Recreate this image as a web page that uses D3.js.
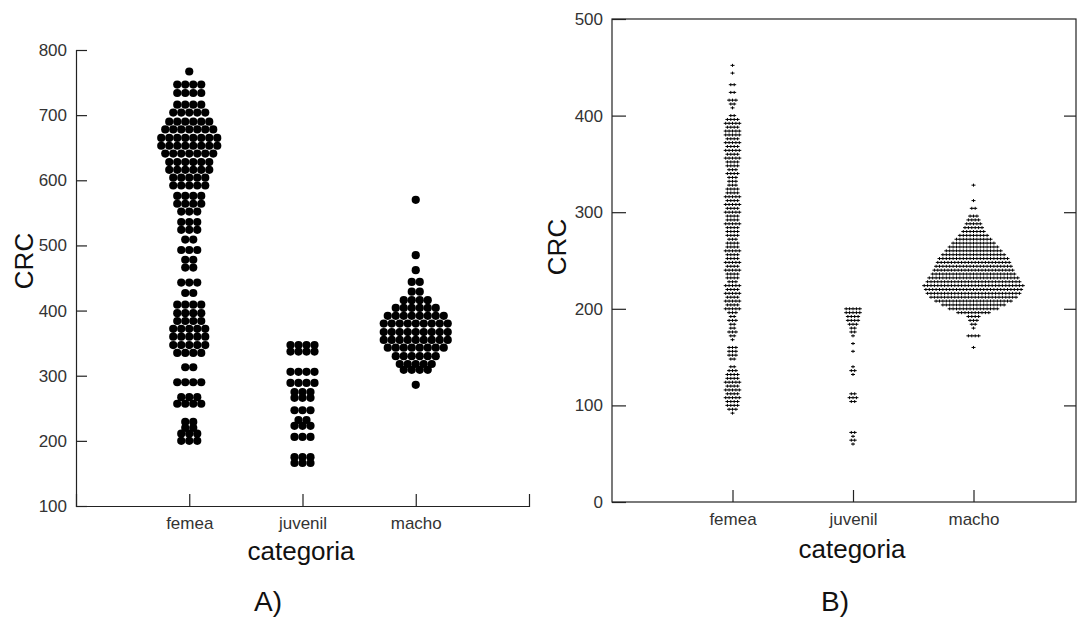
<!DOCTYPE html>
<html>
<head>
<meta charset="utf-8">
<script src="https://cdn.jsdelivr.net/npm/d3@7"></script>
<style>
  html, body { margin: 0; padding: 0; background: #fff; }
  svg { display: block; }
  .tick text { font-family: "Liberation Sans", Arial, sans-serif; font-size: 17px; fill: #333; }
  .title { font-family: "Liberation Sans", Arial, sans-serif; fill: #111; }
</style>
</head>
<body>
<svg id="chart" width="1088" height="620"></svg>
<script>
// Categories shared by both panels
const categories = ["femea", "juvenil", "macho"];

// Axis tick values
const ticksA = [100, 200, 300, 400, 500, 600, 700, 800];
const ticksB = [0, 100, 200, 300, 400, 500];

// Panel A: CRC rows as [value, number of animals at that value]
const femeaA = [
  [767, 1], [747, 4], [734, 4], [716, 4], [704, 5],
  [690, 6], [678, 7], [665, 8], [653, 8], [641, 7], [628, 6],
  [616, 6], [604, 5], [592, 5], [576, 4], [564, 4], [552, 3],
  [536, 3], [524, 3], [509, 2], [493, 3], [478, 2], [466, 2],
  [443, 3], [427, 2], [409, 4], [396, 4], [384, 4], [372, 5],
  [360, 5], [347, 5], [335, 4], [313, 2], [290, 4], [267, 3],
  [257, 4], [229, 2], [220, 2], [211, 3], [200, 3]
];
const juvenilA = [
  [347, 4], [337, 4], [306, 4], [289, 4], [275, 3], [266, 3],
  [247, 3], [232, 2], [223, 3], [206, 3], [175, 3], [166, 3]
];
const machoA = [
  [570, 1], [485, 1], [462, 1], [444, 2], [429, 2],
  [416, 4], [404, 6], [392, 8], [380, 9], [367, 9], [355, 9],
  [343, 8], [330, 6], [318, 5], [309, 4], [286, 1]
];

// Panel B: CRC rows as [value, number of animals at that value]
const femeaB = [
  [452, 1], [444, 1], [432, 2], [424, 2], [416, 3], [412, 2], [408, 1],
  [400, 2], [396, 4], [392, 5], [388, 4], [384, 5], [380, 5], [376, 4],
  [372, 5], [368, 4], [364, 5], [360, 4], [356, 5], [352, 4], [348, 4],
  [344, 3], [340, 4], [336, 3], [332, 3], [328, 3], [324, 4], [320, 4],
  [316, 5], [312, 4], [308, 5], [304, 4], [300, 5], [296, 4], [292, 4],
  [288, 5], [284, 4], [280, 4], [276, 4], [272, 3], [268, 4], [264, 4],
  [260, 5], [256, 4], [252, 4], [248, 5], [244, 4], [240, 5], [236, 4],
  [232, 4], [228, 3], [224, 5], [220, 4], [216, 5], [212, 4], [208, 5],
  [204, 4], [200, 5], [196, 3], [192, 2], [188, 3], [184, 2], [180, 2],
  [176, 3], [172, 2], [168, 1], [160, 3], [156, 3], [152, 3], [148, 2],
  [140, 2], [136, 3], [132, 4], [128, 4], [124, 5], [120, 4], [116, 5],
  [112, 4], [108, 5], [104, 4], [100, 4], [96, 3], [92, 1]
];
const juvenilB = [
  [200, 5], [196, 5], [192, 4], [188, 4], [184, 3], [180, 2], [176, 2],
  [172, 1], [164, 1], [156, 1], [140, 1], [136, 2], [132, 1],
  [112, 2], [108, 3], [104, 2], [72, 2], [68, 1], [64, 2], [60, 1]
];
const machoB = [
  [328, 1], [312, 1], [304, 2],
  [296, 3], [292, 4], [288, 5], [284, 6], [280, 7], [276, 9], [272, 11],
  [268, 13], [264, 15], [260, 17], [256, 19], [252, 21], [248, 22],
  [244, 23], [240, 24], [236, 25], [232, 27], [228, 28], [224, 30],
  [220, 29], [216, 28], [212, 26], [208, 23], [204, 19], [200, 15],
  [196, 10], [192, 4], [188, 3], [184, 2], [180, 1], [172, 4], [160, 1]
];

const svg = d3.select("#chart");

// Spread each row's animals side by side around the category position
function swarm(rows, cat, x, y, spacing) {
  return rows.flatMap(([v, n]) =>
    d3.range(n).map(i => ({ cx: x(cat) + (i - (n - 1) / 2) * spacing, cy: y(v) }))
  );
}

function styleAxis(g) {
  g.selectAll("path, line").attr("stroke", "#222").attr("stroke-width", 1.2);
}

// ---------- Panel A ----------
const yA = d3.scaleLinear().domain([100, 800]).range([506, 50]);
const xA = d3.scalePoint().domain(categories).range([76, 529]).padding(1);

const gA = svg.append("g");
gA.append("g")
  .attr("transform", `translate(${xA.range()[0]},0)`)
  .call(d3.axisLeft(yA).tickValues(ticksA).tickSizeInner(-11).tickSizeOuter(-11).tickPadding(9))
  .call(styleAxis);
gA.append("g")
  .attr("transform", `translate(0,${yA.range()[0]})`)
  .call(d3.axisBottom(xA).tickSizeInner(-12).tickSizeOuter(-12).tickPadding(11))
  .call(styleAxis);

const dotsA = [
  ...swarm(femeaA, "femea", xA, yA, 8),
  ...swarm(juvenilA, "juvenil", xA, yA, 8),
  ...swarm(machoA, "macho", xA, yA, 8)
];
gA.append("g").selectAll("circle").data(dotsA).join("circle")
  .attr("cx", d => d.cx).attr("cy", d => d.cy).attr("r", 4.1).attr("fill", "#000");

gA.append("text").attr("class", "title")
  .attr("transform", "translate(33,261) rotate(-90)")
  .attr("text-anchor", "middle").attr("font-size", 26).text("CRC");
gA.append("text").attr("class", "title")
  .attr("x", 301).attr("y", 560).attr("text-anchor", "middle").attr("font-size", 26).text("categoria");
gA.append("text").attr("class", "title")
  .attr("x", 268).attr("y", 611).attr("text-anchor", "middle").attr("font-size", 28).text("A)");

// ---------- Panel B ----------
const yB = d3.scaleLinear().domain([0, 500]).range([502, 19]);
const xB = d3.scalePoint().domain(categories).range([612, 1094]).padding(1);
const frameRight = 1076;

const gB = svg.append("g");
gB.append("rect")
  .attr("x", xB.range()[0]).attr("y", yB.range()[1])
  .attr("width", frameRight - xB.range()[0]).attr("height", yB.range()[0] - yB.range()[1])
  .attr("fill", "none").attr("stroke", "#222").attr("stroke-width", 1.2);

gB.append("g")
  .attr("transform", `translate(${xB.range()[0]},0)`)
  .call(d3.axisLeft(yB).tickValues(ticksB).tickSizeInner(-14).tickSizeOuter(0).tickPadding(9))
  .call(styleAxis)
  .call(g => g.select(".domain").remove());
gB.append("g")
  .attr("transform", `translate(${frameRight},0)`)
  .call(d3.axisRight(yB).tickValues(ticksB.slice(1, -1)).tickSizeInner(-12).tickSizeOuter(0).tickFormat(""))
  .call(styleAxis)
  .call(g => g.select(".domain").remove());
gB.append("g")
  .attr("transform", `translate(0,${yB.range()[0]})`)
  .call(d3.axisBottom(xB).tickSizeInner(-12).tickSizeOuter(0).tickPadding(11))
  .call(styleAxis)
  .call(g => g.select(".domain").remove());

// Small plus markers for every animal: wide dash with a shorter upright stroke
const marksB = [
  ...swarm(femeaB, "femea", xB, yB, 3.4),
  ...swarm(juvenilB, "juvenil", xB, yB, 3.4),
  ...swarm(machoB, "macho", xB, yB, 3.4)
];
const armX = 2, armY = 1.5;
gB.append("path")
  .attr("d", marksB.map(d =>
    `M${d.cx - armX},${d.cy}H${d.cx + armX}M${d.cx},${d.cy - armY}V${d.cy + armY}`).join(""))
  .attr("stroke", "#000").attr("stroke-width", 1).attr("fill", "none");

gB.append("text").attr("class", "title")
  .attr("transform", "translate(566,247) rotate(-90)")
  .attr("text-anchor", "middle").attr("font-size", 26).text("CRC");
gB.append("text").attr("class", "title")
  .attr("x", 852).attr("y", 558).attr("text-anchor", "middle").attr("font-size", 26).text("categoria");
gB.append("text").attr("class", "title")
  .attr("x", 835).attr("y", 611).attr("text-anchor", "middle").attr("font-size", 28).text("B)");
</script>
</body>
</html>
